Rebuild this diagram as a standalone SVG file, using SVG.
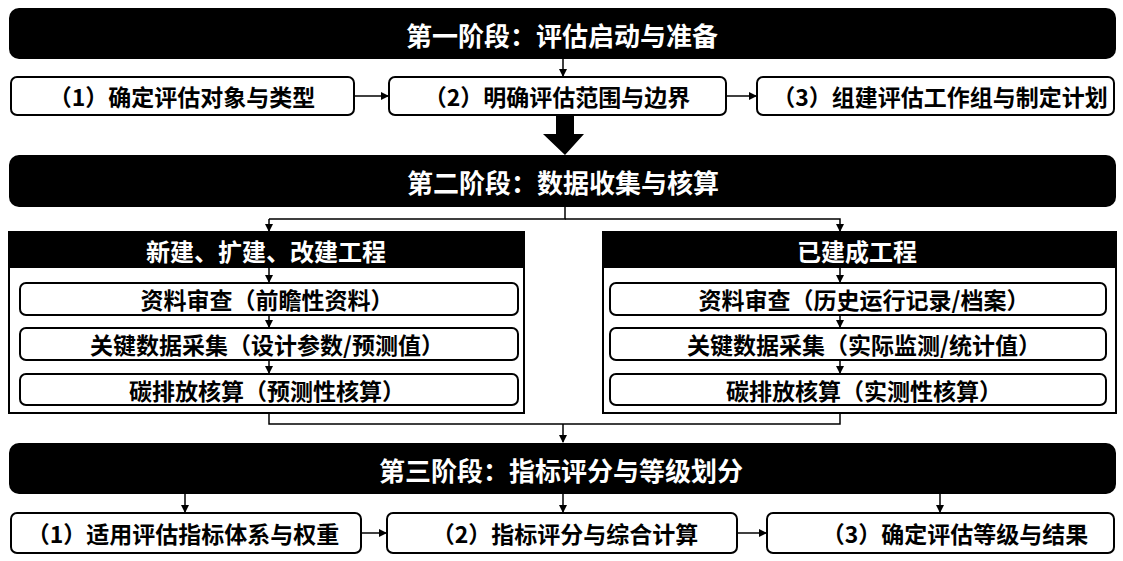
<svg xmlns="http://www.w3.org/2000/svg" width="1123" height="561" viewBox="0 0 1123 561">
<defs>
<style>
.bar{fill:#000;}
.bt{fill:#fff;font-family:"Noto Sans CJK SC","Noto Sans",sans-serif;font-weight:700;font-size:26px;text-anchor:middle;dominant-baseline:central;}
.hd{fill:#fff;font-family:"Noto Sans CJK SC","Noto Sans",sans-serif;font-weight:700;font-size:24px;text-anchor:middle;dominant-baseline:central;}
.box{fill:#fff;stroke:#000;stroke-width:2;}
.tx{fill:#000;font-family:"Noto Sans CJK SC","Noto Sans",sans-serif;font-weight:700;font-size:23px;text-anchor:middle;dominant-baseline:central;}
.ln{fill:none;stroke:#000;stroke-width:1.5;}
</style>
<marker id="ah" markerWidth="8" markerHeight="8" refX="7" refY="4" orient="auto" markerUnits="userSpaceOnUse">
<path d="M0,0 L8,4 L0,8 Z" fill="#000"/>
</marker>
</defs>
<rect width="1123" height="561" fill="#fff"/>

<g id="phase1"><rect class="bar" x="9" y="8" width="1107" height="51" rx="10"/><text class="bt" x="562" y="34">第一阶段：评估启动与准备</text></g>
<g id="p1s1"><rect class="box" x="11" y="77" width="343" height="38" rx="6"/><text class="tx" x="182" y="96">（1）确定评估对象与类型</text></g>
<g id="p1s2"><rect class="box" x="389" y="77" width="337" height="38" rx="6"/><text class="tx" x="557" y="96">（2）明确评估范围与边界</text></g>
<g id="p1s3"><rect class="box" x="757" y="77" width="357" height="38" rx="6"/><text class="tx" x="940" y="96">（3）组建评估工作组与制定计划</text></g>

<g id="phase2"><rect class="bar" x="9" y="155" width="1107" height="52" rx="10"/><text class="bt" x="563" y="181">第二阶段：数据收集与核算</text></g>

<g id="left">
<rect x="9" y="232" width="515" height="181" fill="#fff" stroke="#000" stroke-width="2"/>
<rect class="bar" x="9" y="232" width="515" height="36"/>
<text class="hd" x="266" y="250">新建、扩建、改建工程</text>
<rect class="box" x="20" y="283" width="498" height="32" rx="6"/><text class="tx" x="267" y="299">资料审查（前瞻性资料）</text>
<rect class="box" x="20" y="328" width="498" height="32" rx="6"/><text class="tx" x="267" y="344">关键数据采集（设计参数/预测值）</text>
<rect class="box" x="20" y="374" width="498" height="31" rx="6"/><text class="tx" x="267" y="390">碳排放核算（预测性核算）</text>
</g>
<g id="right">
<rect x="603" y="232" width="513" height="181" fill="#fff" stroke="#000" stroke-width="2"/>
<rect class="bar" x="603" y="232" width="513" height="36"/>
<text class="hd" x="857" y="250">已建成工程</text>
<rect class="box" x="610" y="283" width="496" height="32" rx="6"/><text class="tx" x="864" y="299">资料审查（历史运行记录/档案）</text>
<rect class="box" x="610" y="328" width="496" height="32" rx="6"/><text class="tx" x="864" y="344">关键数据采集（实际监测/统计值）</text>
<rect class="box" x="610" y="374" width="496" height="31" rx="6"/><text class="tx" x="864" y="390">碳排放核算（实测性核算）</text>
</g>

<g id="phase3"><rect class="bar" x="9" y="443" width="1107" height="51" rx="10"/><text class="bt" x="561" y="469">第三阶段：指标评分与等级划分</text></g>
<g id="p3s1"><rect class="box" x="11" y="513" width="350" height="40" rx="6"/><text class="tx" x="183" y="533">（1）适用评估指标体系与权重</text></g>
<g id="p3s2"><rect class="box" x="387" y="513" width="350" height="40" rx="6"/><text class="tx" x="565" y="533">（2）指标评分与综合计算</text></g>
<g id="p3s3"><rect class="box" x="767" y="513" width="347" height="40" rx="6"/><text class="tx" x="955" y="533">（3）确定评估等级与结果</text></g>

<g id="connectors">
<line class="ln" x1="563" y1="59" x2="563" y2="76" marker-end="url(#ah)"/>
<line class="ln" x1="354" y1="96" x2="388" y2="96" marker-end="url(#ah)"/>
<line class="ln" x1="726" y1="96" x2="756" y2="96" marker-end="url(#ah)"/>
<path d="M556,115 L574,115 L574,134 L584,134 L565,155 L543,134 L556,134 Z" fill="#000"/>
<polyline class="ln" points="565,207 565,219 269,219"/>
<line class="ln" x1="269" y1="219" x2="269" y2="231" marker-end="url(#ah)"/>
<polyline class="ln" points="565,219 840,219 840,231" marker-end="url(#ah)"/>
<line class="ln" x1="269" y1="268" x2="269" y2="282" marker-end="url(#ah)"/>
<line class="ln" x1="269" y1="315" x2="269" y2="327" marker-end="url(#ah)"/>
<line class="ln" x1="269" y1="360" x2="269" y2="373" marker-end="url(#ah)"/>
<line class="ln" x1="840" y1="268" x2="840" y2="282" marker-end="url(#ah)"/>
<line class="ln" x1="840" y1="315" x2="840" y2="327" marker-end="url(#ah)"/>
<line class="ln" x1="840" y1="360" x2="840" y2="373" marker-end="url(#ah)"/>
<polyline class="ln" points="269,413 269,424 840,424 840,413"/>
<line class="ln" x1="563" y1="424" x2="563" y2="442" marker-end="url(#ah)"/>
<line class="ln" x1="185" y1="494" x2="185" y2="512" marker-end="url(#ah)"/>
<line class="ln" x1="563" y1="494" x2="563" y2="512" marker-end="url(#ah)"/>
<line class="ln" x1="940" y1="494" x2="940" y2="512" marker-end="url(#ah)"/>
<line class="ln" x1="361" y1="533" x2="386" y2="533" marker-end="url(#ah)"/>
<line class="ln" x1="737" y1="533" x2="766" y2="533" marker-end="url(#ah)"/>
</g>
</svg>
